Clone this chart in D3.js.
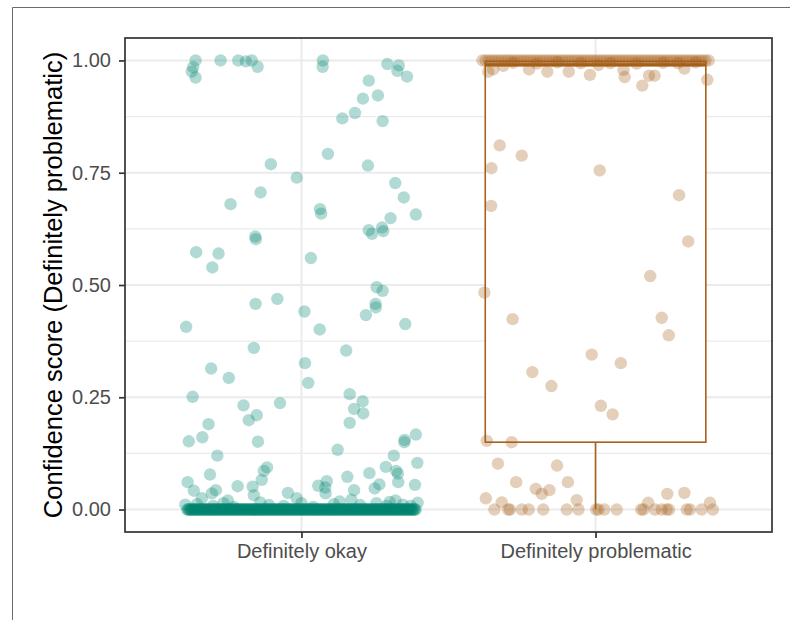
<!DOCTYPE html>
<html>
<head>
<meta charset="utf-8">
<script src="https://cdn.jsdelivr.net/npm/d3@7"></script>
<style>
  html, body { margin: 0; padding: 0; background: #fff; }
  svg { display: block; font-family: "Liberation Sans", Arial, Helvetica, sans-serif; }
</style>
</head>
<body>
<div id="chart"></div>
<script>
// カテゴリ
const categories = ["Definitely okay", "Definitely problematic"];
const yTicks = [0, 0.25, 0.5, 0.75, 1];
const yMinorTicks = [0.125, 0.375, 0.625, 0.875];
const yTitle = "Confidence score (Definitely problematic)";

// [score, jitter] jitter はカテゴリ幅の単位
const okayPoints = [
    [1.000, -0.360], [0.985, -0.368], [0.975, -0.373], [0.962, -0.360], [1.000, -0.275],
    [1.000, -0.215], [0.998, -0.189], [1.000, -0.169], [0.986, -0.149], [1.000, 0.073],
    [0.986, 0.072], [0.992, 0.292], [0.989, 0.331], [0.977, 0.326], [0.964, 0.359],
    [0.955, 0.229], [0.922, 0.260], [0.915, 0.209], [0.883, 0.182], [0.871, 0.139],
    [0.865, 0.276], [0.792, 0.090], [0.766, 0.226], [0.769, -0.104], [0.739, -0.016],
    [0.706, -0.139], [0.680, -0.241], [0.669, 0.063], [0.659, 0.067], [0.727, 0.319],
    [0.695, 0.348], [0.657, 0.389], [0.649, 0.303], [0.622, 0.229], [0.614, 0.240],
    [0.628, 0.274], [0.620, 0.278], [0.608, -0.157], [0.602, -0.155], [0.573, -0.358],
    [0.570, -0.282], [0.539, -0.303], [0.560, 0.032], [0.495, 0.256], [0.487, 0.276],
    [0.458, -0.156], [0.469, -0.082], [0.441, 0.010], [0.458, 0.252], [0.450, 0.253],
    [0.433, 0.219], [0.407, -0.392], [0.401, 0.062], [0.413, 0.353], [0.360, -0.162],
    [0.354, 0.152], [0.326, 0.012], [0.282, 0.023], [0.314, -0.307], [0.293, -0.247],
    [0.251, -0.370], [0.257, 0.164], [0.241, 0.208], [0.224, 0.179], [0.214, 0.210],
    [0.193, 0.164], [0.232, -0.197], [0.237, -0.073], [0.210, -0.152], [0.199, -0.179],
    [0.190, -0.316], [0.152, -0.383], [0.161, -0.337], [0.151, -0.148], [0.120, -0.286],
    [0.133, 0.123], [0.167, 0.389], [0.155, 0.351], [0.150, 0.350], [0.120, 0.314],
    [0.104, 0.394], [0.095, 0.287], [0.086, 0.322], [0.080, 0.328], [0.061, 0.329],
    [0.055, 0.386], [0.081, 0.231], [0.073, 0.156], [0.056, 0.265], [0.047, 0.249],
    [0.043, 0.179], [0.094, -0.117], [0.086, -0.128], [0.066, -0.135], [0.078, -0.311],
    [0.061, -0.387], [0.042, -0.366], [0.043, -0.291], [0.036, -0.305], [0.052, -0.217],
    [0.051, -0.166], [0.032, -0.162], [0.037, -0.046], [0.053, 0.057], [0.063, 0.086],
    [0.049, 0.081], [0.036, 0.082], [0.025, -0.339], [0.025, -0.016],
    [0.012, -0.355], [0.008, -0.300], [0.014, -0.265], [0.006, -0.230], [0.016, -0.140],
    [0.010, -0.110], [0.008, -0.060], [0.014, 0.000], [0.006, 0.040], [0.012, 0.110],
    [0.018, 0.130], [0.010, 0.200], [0.014, 0.255], [0.008, 0.290], [0.017, 0.300],
    [0.011, 0.345], [0.008, 0.372], [0.015, 0.395], [0.011, -0.395], [0.020, -0.250],
    [0.022, 0.170], [0.020, 0.320]
];
const okayZeroCount = 260; // score = 0 の回答数

const problematicPoints = [
    [0.975, -0.365], [0.980, -0.348], [0.988, -0.314], [0.980, -0.226], [0.975, -0.164],
    [0.975, -0.091], [0.968, -0.019], [0.963, 0.099], [0.979, 0.095], [0.944, 0.159],
    [0.966, 0.182], [0.966, 0.201], [0.982, 0.302], [0.957, 0.380], [0.990, 0.010],
    [0.811, -0.326], [0.788, -0.251], [0.760, -0.354], [0.755, 0.014], [0.676, -0.355],
    [0.700, 0.284], [0.597, 0.315], [0.520, 0.186], [0.483, -0.378], [0.424, -0.282],
    [0.427, 0.225], [0.388, 0.249], [0.345, -0.013], [0.326, 0.086], [0.306, -0.215],
    [0.275, -0.150], [0.231, 0.018], [0.212, 0.058], [0.153, -0.370], [0.150, -0.285],
    [0.102, -0.332], [0.098, -0.131], [0.061, -0.270], [0.061, -0.094], [0.046, -0.203],
    [0.035, -0.183], [0.043, -0.157], [0.025, -0.373], [0.016, -0.319], [0.021, -0.064],
    [0.015, 0.179], [0.035, 0.244], [0.037, 0.302], [0.015, 0.389],
    [0, -0.344], [0, -0.297], [0, -0.291], [0, -0.251], [0, -0.227], [0, -0.178],
    [0, -0.098], [0, -0.058], [0, 0.002], [0, 0.010], [0, 0.030], [0, 0.072],
    [0, 0.155], [0, 0.163], [0, 0.202], [0, 0.225], [0, 0.242], [0, 0.250],
    [0, 0.310], [0, 0.321], [0, 0.361], [0, 0.399],
    [0.995, -0.280], [0.996, -0.130], [0.994, 0.050], [0.995, 0.230], [0.996, 0.340],
    [0.993, -0.200], [0.994, -0.050], [0.993, 0.140], [0.994, 0.280]
];
const problematicOneCount = 72; // score = 1 の回答数

// 箱ひげ: [下ひげ, Q1, 中央値, Q3, 上ひげ]
const okayBox = [0, 0, 0, 0, 0];
const problematicBox = [0, 0.15, 0.99, 0.998, 1];

const colors = ["#018571", "#A6611A"];

const width = 790;
const height = 620;
const panel = { left: 125, right: 772, top: 38, bottom: 532 };

// 端から端まで均等に並べる (同じ値の点)
function spread(count, value) {
    return d3.range(count).map(i => [value, -0.39 + 0.78 * (i + 0.5) / count]);
}

const groups = [
    { cat: categories[0], color: colors[0], box: okayBox, points: okayPoints.concat(spread(okayZeroCount, 0)) },
    { cat: categories[1], color: colors[1], box: problematicBox, points: problematicPoints.concat(spread(problematicOneCount, 1)) }
];

const x = d3.scalePoint()
    .domain(categories)
    .range([panel.left, panel.right])
    .padding(0.6);

const y = d3.scaleLinear()
    .domain([-0.05, 1.05])
    .range([panel.bottom, panel.top]);

const svg = d3.select("#chart").append("svg")
    .attr("width", width)
    .attr("height", height);

// 外枠
svg.append("path")
    .attr("d", `M12.5,${height} V7.5 H${width}`)
    .attr("fill", "none")
    .attr("stroke", "#6b6b6b")
    .attr("stroke-width", 1);

// グリッド
const grid = svg.append("g");
grid.selectAll(".minor")
    .data(yMinorTicks)
    .join("line")
    .attr("x1", panel.left).attr("x2", panel.right)
    .attr("y1", d => y(d)).attr("y2", d => y(d))
    .attr("stroke", "#ebebeb")
    .attr("stroke-width", 1.2);
grid.selectAll(".major-y")
    .data(yTicks)
    .join("line")
    .attr("x1", panel.left).attr("x2", panel.right)
    .attr("y1", d => y(d)).attr("y2", d => y(d))
    .attr("stroke", "#ebebeb")
    .attr("stroke-width", 2);
grid.selectAll(".major-x")
    .data(categories)
    .join("line")
    .attr("x1", d => x(d)).attr("x2", d => x(d))
    .attr("y1", panel.top).attr("y2", panel.bottom)
    .attr("stroke", "#ebebeb")
    .attr("stroke-width", 2);

// 箱ひげ
const boxHalf = 0.375 * x.step();
const box = svg.selectAll(".box")
    .data(groups)
    .join("g")
    .attr("class", "box");

box.append("line")
    .attr("x1", d => x(d.cat)).attr("x2", d => x(d.cat))
    .attr("y1", d => y(d.box[0])).attr("y2", d => y(d.box[1]))
    .attr("stroke", d => d.color)
    .attr("stroke-width", 1.6);
box.append("line")
    .attr("x1", d => x(d.cat)).attr("x2", d => x(d.cat))
    .attr("y1", d => y(d.box[3])).attr("y2", d => y(d.box[4]))
    .attr("stroke", d => d.color)
    .attr("stroke-width", 1.6);
box.append("rect")
    .attr("x", d => x(d.cat) - boxHalf)
    .attr("width", 2 * boxHalf)
    .attr("y", d => y(d.box[3]))
    .attr("height", d => y(d.box[1]) - y(d.box[3]))
    .attr("fill", "#fff")
    .attr("stroke", d => d.color)
    .attr("stroke-width", 1.6);
box.append("line")
    .attr("x1", d => x(d.cat) - boxHalf).attr("x2", d => x(d.cat) + boxHalf)
    .attr("y1", d => y(d.box[2])).attr("y2", d => y(d.box[2]))
    .attr("stroke", d => d.color)
    .attr("stroke-width", 3.2);

// 点 (jitter)
const pts = svg.selectAll(".pts")
    .data(groups)
    .join("g")
    .attr("class", "pts")
    .attr("fill", d => d.color)
    .attr("fill-opacity", 0.3);

pts.selectAll("circle")
    .data(d => d.points.map(p => ({ cat: d.cat, v: p[0], j: p[1] })))
    .join("circle")
    .attr("cx", d => x(d.cat) + d.j * x.step())
    .attr("cy", d => y(d.v))
    .attr("r", 6.2);

// パネル枠
svg.append("rect")
    .attr("x", panel.left)
    .attr("y", panel.top)
    .attr("width", panel.right - panel.left)
    .attr("height", panel.bottom - panel.top)
    .attr("fill", "none")
    .attr("stroke", "#333333")
    .attr("stroke-width", 1.7);

// 軸
const yAxis = svg.append("g")
    .attr("transform", `translate(${panel.left},0)`)
    .call(d3.axisLeft(y).tickValues(yTicks).tickFormat(d3.format(".2f")).tickSize(6).tickPadding(8));
const xAxis = svg.append("g")
    .attr("transform", `translate(0,${panel.bottom})`)
    .call(d3.axisBottom(x).tickSize(6).tickPadding(5));

[yAxis, xAxis].forEach(ax => {
    ax.select(".domain").remove();
    ax.selectAll(".tick line").attr("stroke", "#333333").attr("stroke-width", 1.7);
    ax.selectAll(".tick text")
        .attr("fill", "#4d4d4d")
        .style("font-size", "20px")
        .style("font-family", "'Liberation Sans', Arial, sans-serif");
});
xAxis.selectAll(".tick text").attr("dy", "0.75em");

svg.append("text")
    .attr("transform", `translate(62,${(panel.top + panel.bottom) / 2}) rotate(-90)`)
    .attr("text-anchor", "middle")
    .attr("fill", "#000")
    .style("font-size", "25.5px")
    .text(yTitle);
</script>
</body>
</html>
